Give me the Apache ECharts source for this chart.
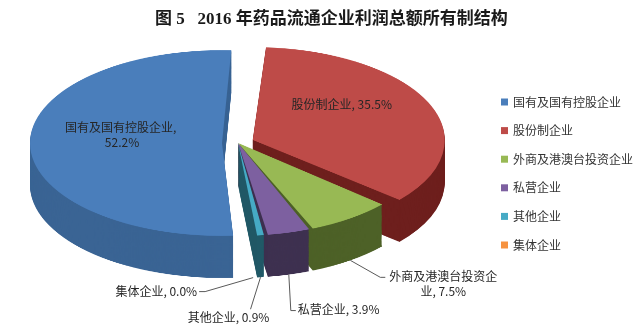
<!DOCTYPE html>
<html><head><meta charset="utf-8">
<script src="https://cdn.jsdelivr.net/npm/echarts@6/dist/echarts.min.js"></script>
<style>
html,body{margin:0;padding:0;background:#fff;}
#wrap{position:relative;width:640px;height:328px;overflow:hidden;background:#fff;}
#pie{position:absolute;left:0;top:0;width:640px;transform-origin:0 0;}
#ann{position:absolute;left:0;top:0;width:640px;height:328px;}
</style></head><body>
<div id="wrap"><div id="pie"></div><div id="ann"></div></div>
<script>
// ---- data ----
const categories = ['国有及国有控股企业', '股份制企业', '外商及港澳台投资企业', '私营企业', '其他企业', '集体企业'];
const shares = [52.2, 35.5, 7.5, 3.9, 0.9, 0.0];
const titleText = '图 5   2016 年药品流通企业利润总额所有制结构';

// ---- style ----
const topColors = ['#4A7EBB', '#BE4B48', '#98B954', '#7D60A0', '#46AAC5', '#F69240'];
const sideColors = ['#3A6494', '#6E1F1D', '#4D6127', '#3E3150', '#215967', '#984807'];
const FONT = "'Noto Sans CJK SC', sans-serif";
const W = 640, H = 328, HP = 678, S = H / HP;
const CX = 238, CY = 143, R = 192, DEPTH = 42, TILT = 4;
const CYP = CY / S;
const total = shares.reduce((a, b) => a + b, 0);
const startAngle = 90 - TILT + 360 * shares[0] / total;
const PAD = 1.2, OFFSET = 16;
const EXPLODED = [true, true, false, false, false, false];

// label placement helpers (screen px offsets)
const LEAD = [null, null,
  { v1: [30, 17], v2: [5, 0], t: [58, 7], align: 'center' },
  { v1: [2, 36], v2: [5, 0], t: [2, -1], align: 'left' },
  { v1: [-10, 32], v2: [0, 0], t: [-22, 8], align: 'center' },
  { v1: [-48, 14], v2: [-6, 0], t: [-2, 0], align: 'right' }];
const INSIDE = [{ f: 0.5, sh: [-4, -8] }, { f: 0.5, sh: [0, -18] }];

// mid angle (degrees clockwise from top) of each slice, from the data
const midAngles = (function () {
  let acc = 0;
  return shares.map(v => {
    const a0 = TILT - 360 * shares[0] / total + 360 * acc / total;
    acc += v;
    const a1 = TILT - 360 * shares[0] / total + 360 * acc / total;
    return (a0 + a1) / 2;
  });
})();

document.getElementById('pie').style.height = HP + 'px';
document.getElementById('pie').style.transform = 'scaleY(' + S + ')';

function layer(cy, colors) {
  return {
    type: 'pie', center: [CX, cy], radius: [0, R], startAngle: startAngle, clockwise: true,
    padAngle: PAD, selectedMode: 'multiple', selectedOffset: OFFSET,
    silent: true, animation: false, emphasis: { disabled: true },
    label: { show: false }, labelLine: { show: false },
    data: categories.map((n, i) => ({ name: n, value: shares[i], selected: EXPLODED[i], itemStyle: { color: colors[i] } }))
  };
}
const layers = [];
for (let k = DEPTH; k >= 1; k--) layers.push(layer(CYP + k / S, sideColors));
layers.push(layer(CYP, topColors));

const pieChart = echarts.init(document.getElementById('pie'), null, { renderer: 'canvas' });
pieChart.setOption({ animation: false, series: layers });

const ann = echarts.init(document.getElementById('ann'), null, { renderer: 'canvas' });
ann.setOption({
  animation: false,
  title: {
    text: titleText, left: 150, top: 6,
    textStyle: { fontSize: 17, fontWeight: 'bold', color: '#1a1a1a', fontFamily: "'Liberation Serif', 'Noto Sans CJK SC', serif" }
  },
  legend: {
    orient: 'vertical', left: 496, top: 91, itemWidth: 7, itemHeight: 7, itemGap: 16.6, icon: 'rect',
    selectedMode: false,
    textStyle: { fontSize: 12, color: '#333', fontFamily: FONT },
    data: categories.map((n, i) => ({ name: n, itemStyle: { color: topColors[i] } }))
  },
  series: [{
    type: 'pie', center: [CX, CYP], radius: [0, R], startAngle: startAngle, clockwise: true,
    padAngle: PAD, selectedMode: false,
    silent: true, animation: false, avoidLabelOverlap: false, emphasis: { disabled: true },
    itemStyle: { color: 'rgba(0,0,0,0)' },
    label: {
      show: true, position: 'outside', fontSize: 12, lineHeight: 15, color: '#262626', fontFamily: FONT,
      width: 115, overflow: 'break',
      formatter: p => p.name + ', ' + p.value.toFixed(1) + '%'
    },
    labelLine: { show: true, smooth: false, lineStyle: { color: '#595959', width: 1 } },
    labelLayout: function (p) {
      const i = p.dataIndex;
      if (EXPLODED[i]) {
        const a = midAngles[i] * Math.PI / 180;
        const rr = R * INSIDE[i].f + OFFSET;
        const q = [CX + Math.sin(a) * rr + INSIDE[i].sh[0], (CYP - Math.cos(a) * rr) * S + INSIDE[i].sh[1]];
        return { x: q[0], y: q[1], align: 'center', verticalAlign: 'middle' };
      }
      const pts = p.labelLinePoints;
      if (!pts) return {};
      const e = [pts[0][0], pts[0][1] * S + (pts[0][1] > CYP ? DEPTH : 0)];
      const L = LEAD[i];
      const b = [e[0] + L.v1[0], e[1] + L.v1[1]];
      const c = [b[0] + L.v2[0], b[1] + L.v2[1]];
      return { x: c[0] + L.t[0], y: c[1] + L.t[1], align: L.align, verticalAlign: 'middle', labelLinePoints: [e, b, c] };
    },
    data: categories.map((n, i) => ({
      name: n, value: shares[i],
      labelLine: { show: !EXPLODED[i] }
    }))
  }]
});
</script>
</body></html>
